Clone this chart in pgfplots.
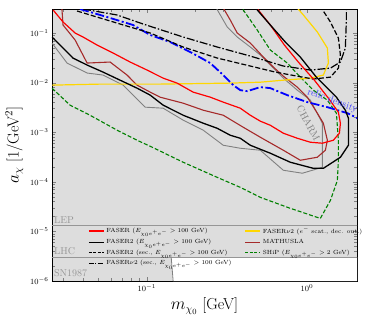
\documentclass[border=0pt]{standalone}
\usepackage{pgfplots}
\pgfplotsset{compat=1.18}
\definecolor{bggray}{RGB}{221,221,221}
\definecolor{lingray}{RGB}{150,150,150}
\definecolor{charmgray}{RGB}{128,128,128}
\definecolor{mbrown}{RGB}{165,42,42}
\definecolor{sgreen}{RGB}{0,128,0}
\definecolor{mgold}{RGB}{255,215,0}

\begin{document}
\begin{tikzpicture}
\begin{axis}[
  scale only axis, width=305bp, height=272bp,
  xmode=log, ymode=log,
  xmin=0.0256, xmax=2.05, ymin=1e-6, ymax=0.305,
  axis background/.style={fill=bggray},
  tick align=inside,
  tick label style={font=\fontsize{8}{9}\selectfont},
  label style={font=\fontsize{16}{18}\selectfont},
  xlabel={$m_{\chi_0}$ [GeV]},
  ylabel={$a_\chi$ [1/GeV$^2$]},
  legend style={at={(0.118,0.205)}, anchor=north west, draw=none, fill=none,
    font=\fontsize{6}{7}\selectfont, inner sep=0pt, row sep=0.6bp,
    /tikz/every even column/.append style={column sep=11bp}},
  legend columns=2,
  legend cell align=left,
  legend image code/.code={\draw[#1] (0bp,0bp) -- (15bp,0bp);},
]
\coordinate (ll) at (rel axis cs:0,0);
\coordinate (ur) at (rel axis cs:1,1);

% white (allowed) corner below LHC / right of SN1987
\addplot[fill=white, draw=none, forget plot] coordinates {
  (0.142,3e-6) (3,3e-6) (3,1e-6) (0.146,1e-6)} -- cycle;
\addplot[lingray, line width=1.3bp, forget plot] coordinates {(0.02,1.3e-5) (3,1.3e-5)};
\addplot[lingray, line width=1.3bp, forget plot] coordinates {(0.02,3e-6) (3,3e-6)};
\addplot[charmgray, line width=0.8bp, forget plot] coordinates {(0.142,3e-6) (0.146,1e-6)};

% CHARM
\addplot[charmgray, line width=0.9bp, forget plot] coordinates {
  (0.0256,0.0628) (0.0318,0.0248) (0.0424,0.0156) (0.0533,0.0142) (0.0711,0.00890)
  (0.0821,0.00559) (0.0975,0.00320) (0.1265,0.00305) (0.1686,0.00175) (0.2249,0.00110)
  (0.2999,5.46e-4) (0.3831,4.75e-4) (0.5109,4.33e-4) (0.7110,1.71e-4) (0.9350,1.49e-4)
  (1.246,1.96e-4) (1.246,1.52e-3) (1.049,4.43e-3) (0.8690,7.05e-3) (0.7110,0.0123)
  (0.5900,0.0226) (0.5109,0.0360) (0.4424,0.0522) (0.3667,0.0830) (0.3177,0.132)
  (0.2712,0.32)};

% MATHUSLA
\addplot[mbrown, line width=1.1bp, forget plot] coordinates {
  (0.0295,0.32) (0.0300,0.145) (0.0357,0.0722) (0.0424,0.0248) (0.0590,0.0260)
  (0.0753,0.0142) (0.0869,0.00890) (0.105,0.00643) (0.121,0.00509) (0.1686,0.00385)
  (0.2249,0.00278) (0.2999,0.00220) (0.3997,0.00126) (0.5109,7.92e-4) (0.7110,4.33e-4)
  (0.9080,2.72e-4) (1.159,3.13e-4) (1.301,4.33e-4) (1.339,6.89e-4) (1.264,1.52e-3)
  (1.159,2.42e-3) (1.004,5.09e-3) (0.8690,8.11e-3) (0.7110,0.0135) (0.6158,0.0206)
  (0.5336,0.0327) (0.4424,0.0628) (0.3667,0.100) (0.3317,0.183) (0.2999,0.32)};

% SHiP
\addplot[sgreen, line width=1.1bp, dash pattern=on 4bp off 2bp, forget plot] coordinates {
  (0.0256,0.00774) (0.0332,0.00351) (0.0442,0.00220) (0.0652,0.00110) (0.0869,6.89e-4)
  (0.105,5.21e-4) (0.1686,2.48e-4) (0.2750,1.23e-4) (0.3831,7.74e-5) (0.5109,4.86e-5)
  (0.786,2.92e-5) (1.211,1.83e-5) (1.399,4.23e-5) (1.546,1.07e-4) (1.569,2.72e-4)
  (1.569,6.89e-4) (1.525,2.42e-3) (1.339,4.43e-3) (1.095,7.05e-3) (0.908,0.0129)
  (0.7528,0.0248) (0.590,0.0454) (0.4889,0.115) (0.3997,0.292) (0.3884,0.32)};

% FASERnu2 e- scattering
\addplot[mgold, line width=1.2bp, forget plot] coordinates {
  (0.0256,0.00890) (0.0511,0.00933) (0.121,0.00933) (0.3317,0.00977) (0.5109,0.0102)
  (0.7110,0.0112) (1.049,0.0123) (1.264,0.0142) (1.359,0.0248) (1.339,0.0498)
  (1.159,0.105) (0.9484,0.231) (0.8690,0.32)};

% relic density
\addplot[blue, line width=1.8bp, dash pattern=on 9bp off 2.5bp on 2bp off 2.5bp, forget plot] coordinates {
  (0.0383,0.305) (0.0565,0.210) (0.0821,0.145) (0.105,0.0912) (0.140,0.0658)
  (0.187,0.0413) (0.2489,0.0248) (0.2999,0.0142) (0.3463,0.00890) (0.3831,0.00705)
  (0.4233,0.00673) (0.5109,0.00811) (0.5900,0.00774) (0.7528,0.00559) (1.004,0.00404)
  (1.339,0.00320) (1.786,0.00242) (2.063,0.00192)};

% FASER2 secondary
\addplot[black, line width=1.2bp, dash pattern=on 5bp off 2.2bp, forget plot] coordinates {
  (0.0367,0.278) (0.0511,0.201) (0.0681,0.152) (0.105,0.100) (0.1686,0.0522)
  (0.2750,0.0313) (0.4424,0.0216) (0.634,0.0163) (0.8690,0.0135) (1.095,0.0118)
  (1.399,0.0129) (1.569,0.0196) (1.615,0.0360) (1.569,0.0793) (1.399,0.167) (1.228,0.32)};

% FASERnu2 secondary
\addplot[black, line width=1.2bp, dash pattern=on 8bp off 2bp on 1.5bp off 2bp, forget plot] coordinates {
  (0.0400,0.305) (0.0652,0.231) (0.0948,0.152) (0.1686,0.0830) (0.2750,0.0522)
  (0.4424,0.0343) (0.7110,0.0216) (1.049,0.0179) (1.399,0.0196) (1.615,0.0260)
  (1.734,0.0498) (1.760,0.183) (1.760,0.32)};

% FASER
\addplot[red, line width=1.2bp, forget plot] coordinates {
  (0.0260,0.292) (0.0300,0.167) (0.0357,0.100) (0.0400,0.0830) (0.0489,0.0573)
  (0.0616,0.0395) (0.0787,0.0260) (0.1004,0.0179) (0.1265,0.0123) (0.1546,0.00977)
  (0.1946,0.00643) (0.2489,0.00509) (0.2999,0.00404) (0.3831,0.00305) (0.4424,0.00220)
  (0.5109,0.00167) (0.5900,0.00138) (0.7110,9.55e-4) (0.8690,7.56e-4) (1.049,6.28e-4)
  (1.246,6.00e-4) (1.459,6.89e-4) (1.592,9.55e-4) (1.615,1.52e-3) (1.569,2.53e-3)
  (1.359,4.86e-3) (1.111,0.0112) (0.882,0.0260) (0.722,0.0573) (0.590,0.145)
  (0.4962,0.292) (0.4823,0.32)};

% FASER2
\addplot[black, line width=1.3bp, forget plot] coordinates {
  (0.0256,0.0830) (0.0287,0.0573) (0.0346,0.0313) (0.0424,0.0226) (0.0533,0.0163)
  (0.0681,0.0112) (0.0869,0.00774) (0.105,0.00559) (0.1265,0.00351) (0.1686,0.00220)
  (0.2249,0.00152) (0.2750,0.00120) (0.3317,8.69e-4) (0.3831,7.56e-4) (0.4424,5.46e-4)
  (0.5900,3.77e-4) (0.7863,2.48e-4) (1.095,1.87e-4) (1.264,1.87e-4) (1.615,3.13e-4)
  (1.812,5.46e-4) (1.812,1.92e-3) (1.734,2.78e-3) (1.525,5.09e-3) (1.143,0.0129)
  (0.908,0.0327) (0.732,0.0658) (0.590,0.145) (0.4889,0.292) (0.4823,0.32)};

\node[text=lingray, anchor=south west, inner sep=2bp, font=\fontsize{10}{12}\selectfont]
  at (axis cs:0.0256,1.3e-5) {LEP};
\node[text=lingray, anchor=south west, inner sep=2bp, font=\fontsize{10}{12}\selectfont]
  at (axis cs:0.0256,3e-6) {LHC};
\node[text=lingray, anchor=south west, inner sep=2bp, yshift=2bp, font=\fontsize{10}{12}\selectfont]
  at (axis cs:0.0256,1e-6) {SN1987};
\node[text=charmgray, rotate=-62, font=\fontsize{10}{12}\selectfont]
  at (axis cs:1.02,1.52e-3) {CHARM};
\node[text=blue!75, rotate=-20, font=\fontsize{10}{12}\selectfont]
  at (axis cs:1.44,4.3e-3) {relic density};

\addlegendimage{red, line width=1.2bp}
\addlegendentry{FASER ($E_{\chi_0e^+e^-}>100$ GeV)}
\addlegendimage{mgold, line width=1.2bp}
\addlegendentry{FASER$\nu$2 ($e^-$ scat., dec. out.)}
\addlegendimage{black, line width=1.3bp}
\addlegendentry{FASER2 ($E_{\chi_0e^+e^-}>100$ GeV)}
\addlegendimage{mbrown, line width=1.3bp}
\addlegendentry{MATHUSLA}
\addlegendimage{black, line width=1.2bp, dash pattern=on 3bp off 1.5bp}
\addlegendentry{FASER2 (sec., $E_{\chi_0e^+e^-}>100$ GeV)}
\addlegendimage{sgreen, line width=1.2bp, dash pattern=on 3bp off 1.5bp}
\addlegendentry{SHiP ($E_{\chi_0e^+e^-}>2$ GeV)}
\addlegendimage{black, line width=1.2bp, dash pattern=on 5bp off 1.5bp on 1bp off 1.5bp}
\addlegendentry{FASER$\nu$2 (sec., $E_{\chi_0e^+e^-}>100$ GeV)}
\end{axis}
\pgfresetboundingbox
\path ([shift={(-52bp,-39bp)}]ll) rectangle ([shift={(17bp,9bp)}]ur);
\end{tikzpicture}
\end{document}
